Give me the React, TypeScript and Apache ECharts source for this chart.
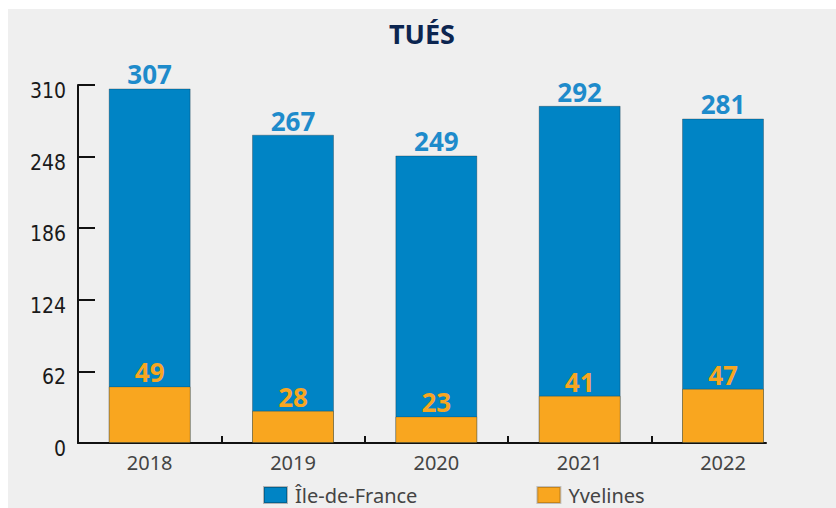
import React, { useEffect, useRef } from "react";
import * as echarts from "echarts";

const categories = ["2018", "2019", "2020", "2021", "2022"];
const ileDeFrance = [307, 267, 249, 292, 281];
const yvelines = [49, 28, 23, 41, 47];
const yTicks = [0, 62, 124, 186, 248, 310];

export default function App() {
  const ref = useRef<HTMLDivElement>(null);
  useEffect(() => {
    if (!ref.current) return;
    const chart = echarts.init(ref.current, null, { renderer: "svg" });
    const mk = (arr: number[]) => arr.map((v, i) => [i, v]);
    chart.setOption({
      animation: false,
      backgroundColor: "#efefef",
      title: {
        text: "TUÉS",
        left: "center",
        top: 6,
        textStyle: {
          fontFamily: "Noto Sans",
          fontWeight: "bold",
          fontSize: 27,
          color: "#0c2550",
        },
      },
      legend: {
        left: 250,
        top: 471,
        icon: "rect",
        itemWidth: 23,
        itemHeight: 16,
        itemGap: 119,
        textStyle: {
          fontFamily: "Noto Sans",
          fontSize: 20,
          color: "#444444",
          padding: [0, 0, 0, 3],
        },
        data: ["Île-de-France", "Yvelines"],
      },
      grid: { left: 70, right: 70, top: 76, bottom: 65, containLabel: false },
      xAxis: {
        type: "value",
        min: -0.5,
        max: 4.3,
        splitLine: { show: false },
        axisLine: { show: true, onZero: false, lineStyle: { color: "#111", width: 2 } },
        axisTick: {
          show: true,
          inside: true,
          length: 7,
          customValues: [0.5, 1.5, 2.5, 3.5],
          lineStyle: { color: "#111", width: 2 },
        },
        axisLabel: {
          customValues: [0, 1, 2, 3, 4],
          formatter: (v: number) => categories[Math.round(v)] ?? "",
          fontFamily: "Noto Sans",
          fontSize: 20,
          color: "#444444",
          margin: 9,
        },
      },
      yAxis: {
        type: "value",
        min: 0,
        max: 310,
        interval: 62,
        splitLine: { show: false },
        axisLine: { show: true, onZero: false, lineStyle: { color: "#111", width: 2 } },
        axisTick: {
          show: true,
          inside: true,
          length: 17,
          lineStyle: { color: "#111", width: 2 },
        },
        axisLabel: {
          formatter: (v: number) => (yTicks.includes(v) ? String(v) : ""),
          fontFamily: "Liberation Sans Narrow, DejaVu Sans Condensed, sans-serif",
          fontSize: 21,
          color: "#1a1a1a",
          margin: 12,
          verticalAlign: "top",
          lineHeight: 12,
        },
      },
      series: [
        {
          name: "Île-de-France",
          type: "bar",
          data: mk(ileDeFrance),
          barWidth: 82,
          itemStyle: { color: "#0084c5", borderColor: "rgba(0,0,0,0.25)", borderWidth: 1 },
          label: {
            show: true,
            position: "top",
            distance: 1,
            formatter: (p: any) => String(p.value[1]),
            fontFamily: "Noto Sans",
            fontWeight: "bold",
            fontSize: 26,
            color: "#1e8bcb",
          },
        },
        {
          name: "Yvelines",
          type: "bar",
          data: mk(yvelines),
          barWidth: 82,
          barGap: "-100%",
          itemStyle: { color: "#f9a61f", borderColor: "rgba(0,0,0,0.2)", borderWidth: 1 },
          label: {
            show: true,
            position: "top",
            distance: 1,
            formatter: (p: any) => String(p.value[1]),
            fontFamily: "Noto Sans",
            fontWeight: "bold",
            fontSize: 26,
            color: "#f7a621",
          },
        },
      ],
    });
    return () => chart.dispose();
  }, []);
  return (
    <div
      ref={ref}
      style={{ position: "absolute", left: 8, top: 9, width: 828, height: 499 }}
    />
  );
}
